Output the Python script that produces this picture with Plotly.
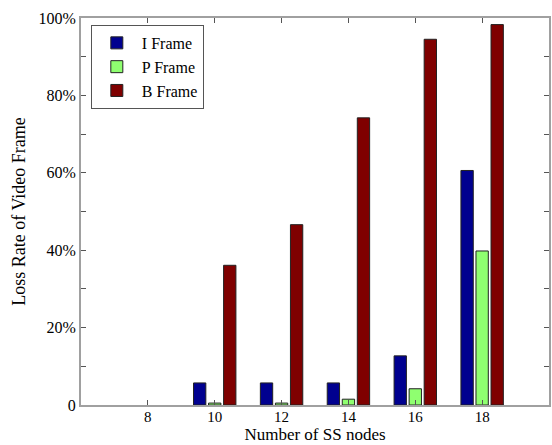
import plotly.graph_objects as go

nodes = [8, 10, 12, 14, 16, 18]
i_frame = [None, 5.7, 5.7, 5.7, 12.7, 60.6]
p_frame = [None, 0.5, 0.5, 1.5, 4.2, 39.8]
b_frame = [None, 36.1, 46.6, 74.2, 94.5, 98.3]
series = [("I Frame", i_frame, "#00008f"), ("P Frame", p_frame, "#8fff70"), ("B Frame", b_frame, "#7f0000")]
y_ticks = [0, 20, 40, 60, 80, 100]
y_labels = ["0", "20%", "40%", "60%", "80%", "100%"]

fig = go.Figure()
for name, vals, col in series:
    fig.add_trace(go.Bar(x=nodes, y=vals, name=name, marker=dict(color=col, line=dict(color="#222222", width=1))))

font = dict(family="Liberation Serif", color="black")
fig.update_layout(
    width=552, height=445, barmode="group", bargap=0.325, bargroupgap=0.18,
    plot_bgcolor="white", paper_bgcolor="white",
    margin=dict(l=81, r=1, t=18, b=40),
    font=dict(size=16, **font),
    showlegend=True,
    legend=dict(x=0.021, y=0.982, xanchor="left", yanchor="top", bordercolor="#555555", borderwidth=1,
                bgcolor="white", font=dict(size=16, **font), tracegroupgap=0, itemwidth=40),
    xaxis=dict(range=[6, 20], tickvals=nodes, ticks="inside", ticklen=5, tickcolor="#555555",
               ticklabelstandoff=-3,
               showline=True, linecolor="#a0a0a0", linewidth=2, mirror="ticks", showgrid=False, zeroline=False,
               title=dict(text="Number of SS nodes", font=dict(size=17, **font), standoff=3),
               tickfont=dict(size=15, **font)),
    yaxis=dict(range=[0, 100], tickvals=y_ticks, ticktext=y_labels, ticks="inside", ticklen=5, tickcolor="#555555",
               minor=dict(tickvals=[10, 30, 50, 70, 90], ticks="inside", ticklen=5, tickcolor="#555555"),
               showline=True, linecolor="#a0a0a0", linewidth=2, mirror="ticks", showgrid=False, zeroline=False,
               title=dict(text="Loss Rate of Video Frame", font=dict(size=18, **font), standoff=8),
               tickfont=dict(size=16, **font)),
)
fig.write_html("out.html")
